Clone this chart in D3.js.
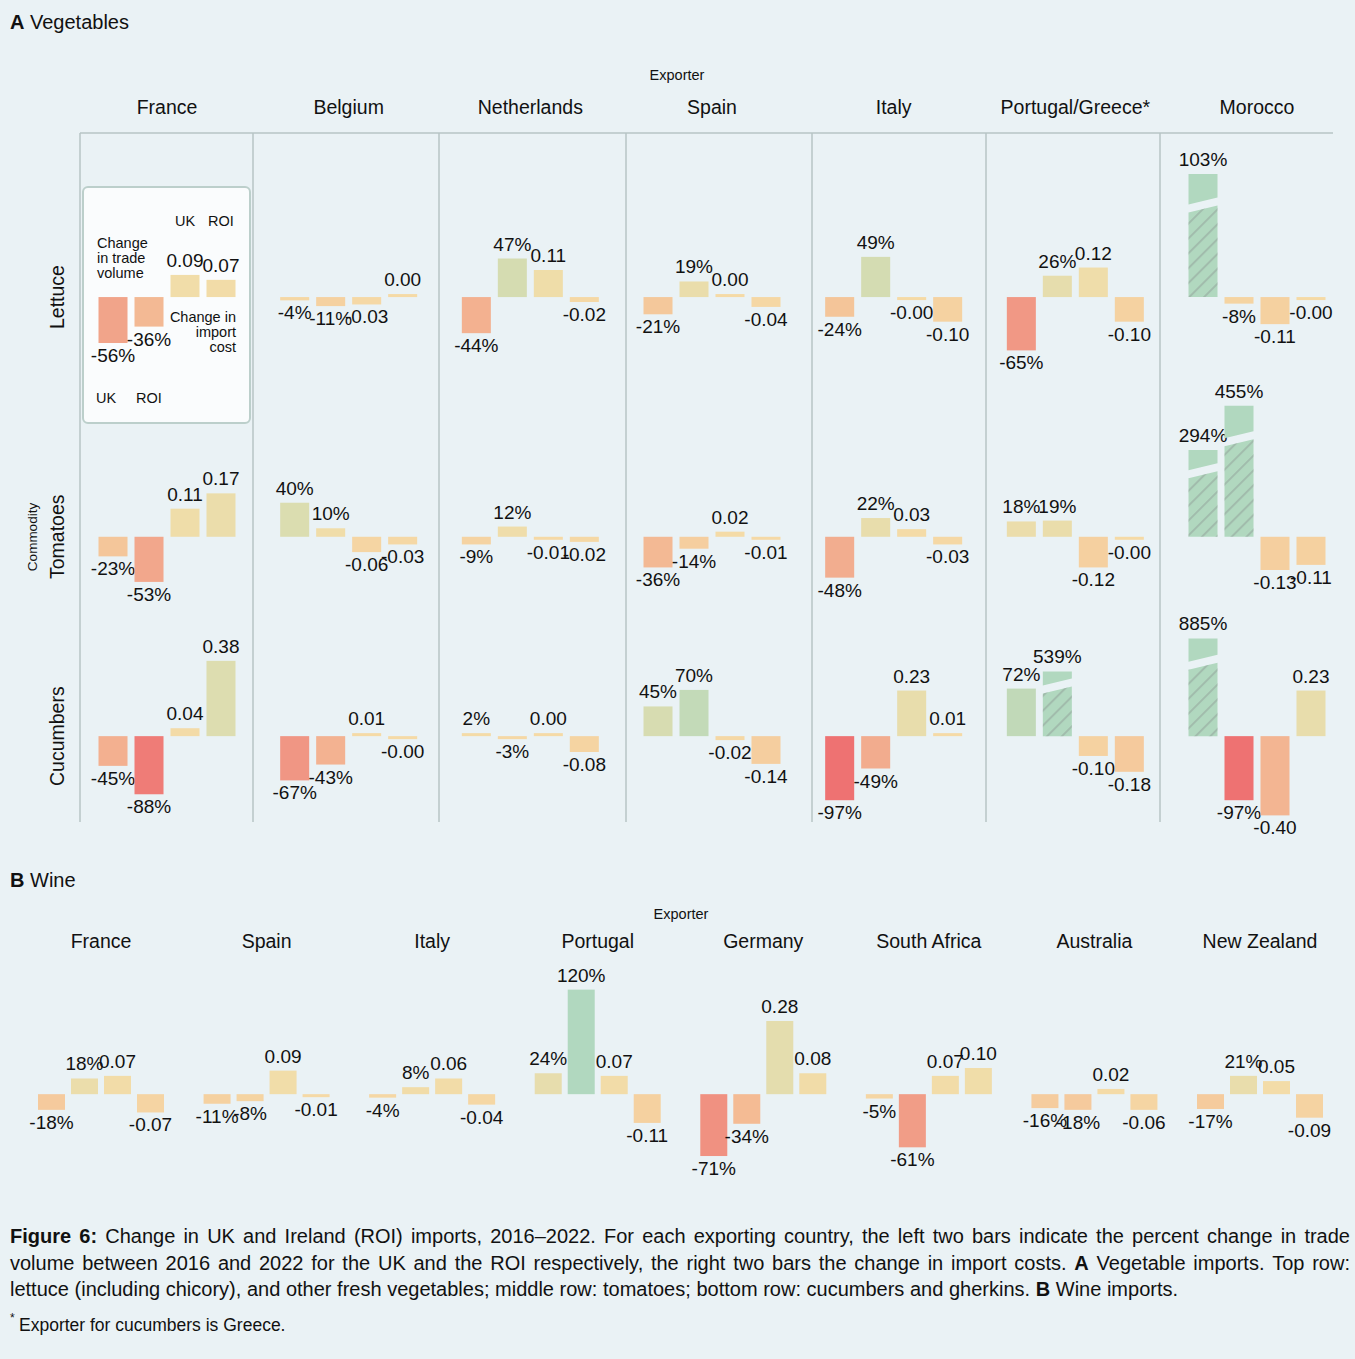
<!DOCTYPE html>
<html>
<head>
<meta charset="utf-8">
<script src="https://cdn.jsdelivr.net/npm/d3@7"></script>
<style>
body { margin: 0; background: #EAF2F5; }
svg { display: block; font-family: "Liberation Sans", Arial, sans-serif; }
</style>
</head>
<body>
<div id="chart-area"></div>
<script>

var width = 1355,
    height = 1359;

// ---- Panel A: vegetables ----
var vegExporters = ["France", "Belgium", "Netherlands", "Spain", "Italy", "Portugal/Greece*", "Morocco"];
var commodities = ["Lettuce", "Tomatoes", "Cucumbers"];

// volume change (%) and import cost change, UK then ROI, one value per exporter
var lettuceVolUK   = [-56, -4, -44, -21, -24, -65, 103];
var lettuceVolROI  = [-36, -11, 47, 19, 49, 26, -8];
var lettuceCostUK  = [0.09, -0.03, 0.11, 0.004, -0.004, 0.12, -0.11];
var lettuceCostROI = [0.07, 0.004, -0.02, -0.04, -0.10, -0.10, -0.004];

var tomatoVolUK   = [-23, 40, -9, -36, -48, 18, 294];
var tomatoVolROI  = [-53, 10, 12, -14, 22, 19, 455];
var tomatoCostUK  = [0.11, -0.06, -0.01, 0.02, 0.03, -0.12, -0.13];
var tomatoCostROI = [0.17, -0.03, -0.02, -0.01, -0.03, -0.004, -0.11];

var cucumberVolUK   = [-45, -67, 2, 45, -97, 72, 885];
var cucumberVolROI  = [-88, -43, -3, 70, -49, 539, -97];
var cucumberCostUK  = [0.04, 0.01, 0.004, -0.02, 0.23, -0.10, -0.40];
var cucumberCostROI = [0.38, -0.004, -0.08, -0.14, 0.01, -0.18, 0.23];

// bars drawn with an axis break: [commodity, exporter, bar index, shown length in %]
var brokenBars = [
    ["Lettuce", "Morocco", 0, 150],
    ["Tomatoes", "Morocco", 0, 102],
    ["Tomatoes", "Morocco", 1, 154],
    ["Cucumbers", "Portugal/Greece*", 1, 98],
    ["Cucumbers", "Morocco", 0, 148]
];

// ---- Panel B: wine ----
var wineExporters = ["France", "Spain", "Italy", "Portugal", "Germany", "South Africa", "Australia", "New Zealand"];
var wineVolUK   = [-18, -11, -4, 24, -71, -5, -16, -17];
var wineVolROI  = [18, -8, 8, 120, -34, -61, -18, 21];
var wineCostUK  = [0.07, 0.09, 0.06, 0.07, 0.28, 0.07, 0.02, 0.05];
var wineCostROI = [-0.07, -0.01, -0.04, -0.11, 0.08, 0.10, -0.06, -0.09];

// caption
var captionLines = [
    "Figure 6: Change in UK and Ireland (ROI) imports, 2016\u20132022.  For each exporting country, the left two bars indicate the percent change in trade",
    "volume between 2016 and 2022 for the UK and the ROI respectively, the right two bars the change in import costs.  A Vegetable imports.  Top row:",
    "lettuce (including chicory), and other fresh vegetables; middle row: tomatoes; bottom row: cucumbers and gherkins. B Wine imports."
];
var boldWords = ["Figure", "6:", "A", "B"];

var vegData = {
    Lettuce: [lettuceVolUK, lettuceVolROI, lettuceCostUK, lettuceCostROI],
    Tomatoes: [tomatoVolUK, tomatoVolROI, tomatoCostUK, tomatoCostROI],
    Cucumbers: [cucumberVolUK, cucumberVolROI, cucumberCostUK, cucumberCostROI]
};

var svg = d3.select("#chart-area").append("svg")
    .attr("width", width)
    .attr("height", height);

svg.append("rect").attr("width", width).attr("height", height).attr("fill", "#EAF2F5");

// hatch for broken bars
var defs = svg.append("defs");
var pat = defs.append("pattern")
    .attr("id", "hatch")
    .attr("patternUnits", "userSpaceOnUse")
    .attr("width", 10.5).attr("height", 10.5)
    .attr("patternTransform", "rotate(45)");
pat.append("line")
    .attr("x1", 1).attr("y1", 0).attr("x2", 1).attr("y2", 10.5)
    .attr("stroke", "#8f9a94").attr("stroke-opacity", 0.45).attr("stroke-width", 2);

var color = d3.scaleLinear()
    .domain([-1, -0.7, -0.5, -0.3, -0.1, 0, 0.1, 0.3, 0.5, 0.75, 1])
    .range(["#EE6E70", "#F09282", "#F2AB8E", "#F4BF96", "#F5D2A1", "#F5DAA6",
            "#F0DDA9", "#E3DDAE", "#D3DCB2", "#BFD9B9", "#B1D8BF"])
    .clamp(true);

function fmt(v, isVol) {
    var sign = v < 0 ? "-" : "";
    return isVol ? sign + Math.round(Math.abs(v)) + "%" : sign + Math.abs(v).toFixed(2);
}

var textColor = "#111";

// draw the four bars of one cell
function drawCell(g, cx, band, yPct, yCost, values, broken) {
    values.forEach(function(v, i) {
        var isVol = i < 2;
        var y = isVol ? yPct : yCost;
        var x0 = cx + band(i), bw = band.bandwidth(), x1 = x0 + bw;
        var y0 = y(0);
        var shown = broken[i];
        var fill = color(isVol ? v / 100 : v);
        var top, bottom;
        if (shown) {
            top = y(shown); bottom = y0;
            var len = y0 - top, mid = top + 0.28 * len, tilt = 7;
            g.append("polygon")
                .attr("points", [[x0, top], [x1, top], [x1, mid - 4 - tilt], [x0, mid - 4]].join(" "))
                .attr("fill", fill);
            var lower = [[x0, mid + 4], [x1, mid + 4 - tilt], [x1, y0], [x0, y0]].join(" ");
            g.append("polygon").attr("points", lower).attr("fill", fill);
            g.append("polygon").attr("points", lower).attr("fill", "url(#hatch)");
        } else {
            var h = Math.max(3, Math.abs(y(v) - y0));
            if (v >= 0) { top = y0 - h; bottom = y0; } else { top = y0; bottom = y0 + h; }
            g.append("rect")
                .attr("x", x0).attr("y", top)
                .attr("width", bw).attr("height", bottom - top)
                .attr("fill", fill);
        }
        g.append("text")
            .attr("x", x0 + bw / 2)
            .attr("y", v >= 0 ? top - 8 : bottom + 19)
            .attr("text-anchor", "middle")
            .attr("font-size", 19)
            .attr("fill", textColor)
            .text(fmt(v, isVol));
    });
}

// ---------- Panel A ----------
svg.append("text").attr("x", 10).attr("y", 29).attr("font-size", 20).attr("fill", textColor)
    .call(function(t) {
        t.append("tspan").attr("font-weight", "bold").text("A");
        t.append("tspan").text(" Vegetables");
    });

var xVeg = d3.scalePoint().domain(vegExporters).range([167, 1257]);
var bandVeg = d3.scaleBand().domain([0, 1, 2, 3]).range([-68.5, 68.5]).paddingInner(0.194);

svg.append("text").attr("x", 677).attr("y", 80).attr("text-anchor", "middle")
    .attr("font-size", 14.5).attr("fill", textColor).text("Exporter");

svg.selectAll(".veg-head")
    .data(vegExporters)
    .enter().append("text")
    .attr("class", "veg-head")
    .attr("x", function(d) { return xVeg(d); })
    .attr("y", 114)
    .attr("text-anchor", "middle")
    .attr("font-size", 19.5)
    .attr("fill", textColor)
    .text(function(d) { return d; });

// grid frame
var gridTop = 133, gridBottom = 822, gridRight = 1333;
var dividerX = [80, 253, 439, 626, 812, 986, 1160];
svg.append("line").attr("x1", 80).attr("x2", gridRight).attr("y1", gridTop).attr("y2", gridTop)
    .attr("stroke", "#B7C5C4").attr("stroke-width", 1.5);
svg.selectAll(".divider")
    .data(dividerX)
    .enter().append("line")
    .attr("class", "divider")
    .attr("x1", function(d) { return d; }).attr("x2", function(d) { return d; })
    .attr("y1", gridTop).attr("y2", gridBottom)
    .attr("stroke", "#B7C5C4").attr("stroke-width", 1.5);

// rows: pixel extent and value domain (%)
var rowTop = [133, 375, 610],
    rowBottom = [375, 610, 822],
    rowDomain = [[-95, 200], [-86, 190], [-130, 191]];

// legend box in the first cell
var legendBox = svg.append("g");
legendBox.append("rect")
    .attr("x", xVeg("France") - 84).attr("y", 187)
    .attr("width", 167).attr("height", 236).attr("rx", 5)
    .attr("fill", "#FAFCFD").attr("stroke", "#BCCFCB").attr("stroke-width", 2);

commodities.forEach(function(c, r) {
    var yPct = d3.scaleLinear().domain(rowDomain[r]).range([rowBottom[r], rowTop[r]]);
    var yCost = d3.scaleLinear().domain(rowDomain[r].map(function(d) { return d / 300; })).range([rowBottom[r], rowTop[r]]);
    var series = vegData[c];

    svg.append("text")
        .attr("transform", "translate(64," + yPct(0) + ") rotate(-90)")
        .attr("text-anchor", "middle")
        .attr("font-size", 19.5)
        .attr("fill", textColor)
        .text(c);

    vegExporters.forEach(function(e, k) {
        var broken = [null, null, null, null];
        brokenBars.forEach(function(b) {
            if (b[0] === c && b[1] === e) broken[b[2]] = b[3];
        });
        var vals = series.map(function(s) { return s[k]; });
        drawCell(svg.append("g"), xVeg(e), bandVeg, yPct, yCost, vals, broken);
    });
});

svg.append("text")
    .attr("transform", "translate(37," + 537 + ") rotate(-90)")
    .attr("text-anchor", "middle")
    .attr("font-size", 13.5)
    .attr("fill", textColor)
    .text("Commodity");

// legend texts
var lx = xVeg("France");
var legendText = svg.append("g").attr("font-size", 14.5).attr("fill", textColor);
legendText.append("text").attr("x", lx + bandVeg(2) + bandVeg.bandwidth() / 2).attr("y", 226).attr("text-anchor", "middle").text("UK");
legendText.append("text").attr("x", lx + bandVeg(3) + bandVeg.bandwidth() / 2).attr("y", 226).attr("text-anchor", "middle").text("ROI");
["Change", "in trade", "volume"].forEach(function(t, i) {
    legendText.append("text").attr("x", lx - 70).attr("y", 248 + i * 15).text(t);
});
["Change in", "import", "cost"].forEach(function(t, i) {
    legendText.append("text").attr("x", lx + 69).attr("y", 322 + i * 15).attr("text-anchor", "end").text(t);
});
legendText.append("text").attr("x", lx - 71).attr("y", 403).text("UK");
legendText.append("text").attr("x", lx + bandVeg(1) + bandVeg.bandwidth() / 2).attr("y", 403).attr("text-anchor", "middle").text("ROI");

// ---------- Panel B ----------
svg.append("text").attr("x", 10).attr("y", 887).attr("font-size", 20).attr("fill", textColor)
    .call(function(t) {
        t.append("tspan").attr("font-weight", "bold").text("B");
        t.append("tspan").text(" Wine");
    });

svg.append("text").attr("x", 681).attr("y", 919).attr("text-anchor", "middle")
    .attr("font-size", 14.5).attr("fill", textColor).text("Exporter");

var xWine = d3.scalePoint().domain(wineExporters).range([101, 1260]);
var bandWine = d3.scaleBand().domain([0, 1, 2, 3]).range([-63, 63]).paddingInner(0.182);
var yWine = d3.scaleLinear().domain([-110, 154]).range([1190, 960]);
var yWineCost = d3.scaleLinear().domain([-110 / 300, 154 / 300]).range([1190, 960]);

svg.selectAll(".wine-head")
    .data(wineExporters)
    .enter().append("text")
    .attr("class", "wine-head")
    .attr("x", function(d) { return xWine(d); })
    .attr("y", 948)
    .attr("text-anchor", "middle")
    .attr("font-size", 19.5)
    .attr("fill", textColor)
    .text(function(d) { return d; });

wineExporters.forEach(function(e, k) {
    var vals = [wineVolUK[k], wineVolROI[k], wineCostUK[k], wineCostROI[k]];
    drawCell(svg.append("g"), xWine(e), bandWine, yWine, yWineCost, vals, [null, null, null, null]);
});

// ---------- caption ----------
function drawCaptionLine(str, y, justify) {
    var words = str.split(/\s+/);
    var g = svg.append("g").attr("font-size", 20).attr("fill", textColor);
    var nodes = words.map(function(w) {
        return g.append("text").attr("y", y)
            .attr("font-weight", boldWords.indexOf(w) >= 0 ? "bold" : "normal")
            .text(w);
    });
    var widths = nodes.map(function(n) { return n.node().getComputedTextLength(); });
    var gap = justify ? (1350 - 10 - d3.sum(widths)) / (words.length - 1) : 5.6;
    var x = 10;
    nodes.forEach(function(n, i) {
        n.attr("x", x);
        x += widths[i] + gap;
    });
}
captionLines.forEach(function(l, i) {
    drawCaptionLine(l, 1243 + i * 26.5, i < 2);
});

svg.append("text").attr("x", 10).attr("y", 1322).attr("font-size", 12).attr("fill", textColor).text("*");
svg.append("text").attr("x", 19).attr("y", 1331).attr("font-size", 17.5).attr("fill", textColor).text("Exporter for cucumbers is Greece.");

</script>
</body>
</html>
